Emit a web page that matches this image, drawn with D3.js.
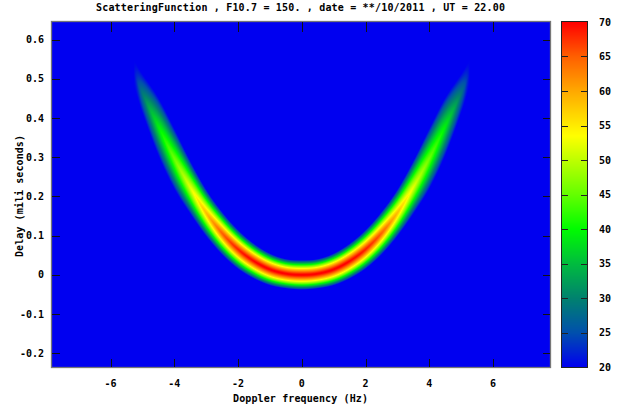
<!DOCTYPE html>
<html><head><meta charset="utf-8">
<script src="https://cdn.jsdelivr.net/npm/d3@7"></script>
<style>
html,body{margin:0;padding:0;background:#fff;}
svg{display:block;}
text{font-family:"DejaVu Sans Mono",monospace;font-weight:bold;font-size:10px;fill:#000;}
</style></head><body>
<svg id="chart" width="625" height="412"></svg>
<script>
// ---- labels and ticks ----
const titleText = "ScatteringFunction , F10.7 = 150. , date = **/10/2011 , UT = 22.00";
const xLabel = "Doppler frequency (Hz)";
const yLabel = "Delay (mili seconds)";
const dopplerTicks = [-6, -4, -2, 0, 2, 4, 6];
const delayTicks = [-0.2, -0.1, 0, 0.1, 0.2, 0.3, 0.4, 0.5, 0.6];
const levelTicks = [20, 25, 30, 35, 40, 45, 50, 55, 60, 65, 70];
const dopplerRange = [-7.84, 7.79];
const delayRange = [-0.235, 0.645];
const levelRange = [20, 70];

// ---- scattering function ridge, sampled every 0.5 Hz ----
const ridgeDoppler   = [-5.5, -5.0, -4.5, -4.0, -3.5, -3.0, -2.5, -2.0, -1.5, -1.0, -0.5, 0.0,
                         0.5, 1.0, 1.5, 2.0, 2.5, 3.0, 3.5, 4.0, 4.5, 5.0, 5.5];
// delay of the ridge (ms)
const ridgeDelay     = [0.550, 0.462, 0.378, 0.296, 0.223, 0.158, 0.106, 0.065, 0.035, 0.014, 0.003, 0.000,
                        0.003, 0.014, 0.035, 0.065, 0.106, 0.158, 0.223, 0.296, 0.378, 0.462, 0.550];
// peak level on the ridge (dB)
const ridgePeak      = [14, 29, 39, 45.5, 52, 58.5, 65, 68.5, 70, 70.5, 70.5, 70.5,
                        70.5, 70.5, 70, 68.5, 65, 58.5, 52, 45.5, 39, 29, 14];
// half width of the band down to the 20 dB floor (ms, along delay)
const ridgeHalfWidth = [0.022, 0.050, 0.074, 0.077, 0.068, 0.060, 0.055, 0.050, 0.045, 0.041, 0.038, 0.038,
                        0.038, 0.041, 0.045, 0.050, 0.055, 0.060, 0.068, 0.077, 0.074, 0.050, 0.022];
// shape exponent of the cross-band fall-off
const profileExponent = 1.3;

// colour table of the level scale
const paletteLevels = [20, 25, 30, 35, 40, 45, 50, 53.5, 60, 65, 70];
const paletteColors = ["rgb(0,0,240)", "rgb(0,80,172)", "rgb(0,130,110)", "rgb(0,188,62)", "rgb(0,252,0)",
                       "rgb(100,255,0)", "rgb(190,255,0)", "rgb(255,255,0)", "rgb(255,168,0)",
                       "rgb(255,95,0)", "rgb(255,0,0)"];

const svg = d3.select("#chart");
const plot = {left: 52, top: 22, right: 550, bottom: 367};
const bar = {left: 562, right: 587};

const x = d3.scaleLinear().domain(dopplerRange).range([plot.left, plot.right]);
const y = d3.scaleLinear().domain(delayRange).range([plot.bottom, plot.top]);
const yc = d3.scaleLinear().domain(levelRange).range([plot.bottom, plot.top]);
const color = d3.scaleLinear().domain(paletteLevels).range(paletteColors)
  .interpolate(d3.interpolateRgb).clamp(true);

// Catmull-Rom through the uniformly spaced ridge samples
const f0 = ridgeDoppler[0], step = ridgeDoppler[1] - ridgeDoppler[0], n = ridgeDoppler.length;
function sample(arr, f) {
  let t = (f - f0) / step;
  t = Math.max(0, Math.min(n - 1 - 1e-9, t));
  const i = Math.floor(t), u = t - i;
  const p0 = arr[Math.max(i - 1, 0)], p1 = arr[i], p2 = arr[Math.min(i + 1, n - 1)], p3 = arr[Math.min(i + 2, n - 1)];
  return 0.5 * (2 * p1 + (-p0 + p2) * u + (2 * p0 - 5 * p1 + 4 * p2 - p3) * u * u +
                (-p0 + 3 * p1 - 3 * p2 + p3) * u * u * u);
}

// ---- image of the scattering function ----
const W = plot.right - plot.left, H = plot.bottom - plot.top;
const canvas = document.createElement("canvas");
canvas.width = W; canvas.height = H;
const ctx = canvas.getContext("2d");
const img = ctx.createImageData(W, H);
const lut = d3.range(0, 501).map(k => d3.rgb(color(levelRange[0] + k * 0.1)));
for (let px = 0; px < W; px++) {
  const f = x.invert(plot.left + px + 0.5);
  const P = sample(ridgePeak, f), w = Math.max(1e-4, sample(ridgeHalfWidth, f)), r = sample(ridgeDelay, f);
  for (let py = 0; py < H; py++) {
    const tau = y.invert(plot.top + py + 0.5);
    const d = Math.abs(tau - r) / w;
    const v = d >= 1 ? levelRange[0]
      : levelRange[0] + (P - levelRange[0]) * (1 - Math.pow(d, profileExponent));
    const k = Math.max(0, Math.min(500, Math.round((v - levelRange[0]) * 10)));
    const c = lut[k], o = (py * W + px) * 4;
    img.data[o] = c.r; img.data[o + 1] = c.g; img.data[o + 2] = c.b; img.data[o + 3] = 255;
  }
}
ctx.putImageData(img, 0, 0);
svg.append("image")
  .attr("x", plot.left).attr("y", plot.top).attr("width", W).attr("height", H)
  .attr("preserveAspectRatio", "none")
  .attr("href", canvas.toDataURL());

// ---- frame and ticks ----
svg.append("rect").attr("x", plot.left - 0.5).attr("y", plot.top - 0.5)
  .attr("width", W + 1).attr("height", H + 1)
  .attr("fill", "none").attr("stroke", "#777").attr("stroke-width", 1.3);

const tickG = svg.append("g").attr("stroke", "#111").attr("stroke-width", 1);
dopplerTicks.forEach(t => {
  const xp = Math.round(x(t)) + 0.5;
  tickG.append("line").attr("x1", xp).attr("x2", xp).attr("y1", plot.top).attr("y2", plot.top + 10);
  tickG.append("line").attr("x1", xp).attr("x2", xp).attr("y1", plot.bottom).attr("y2", plot.bottom - 8);
});
delayTicks.forEach(t => {
  const yp = Math.round(y(t)) + 0.5;
  tickG.append("line").attr("x1", plot.left).attr("x2", plot.left + 8).attr("y1", yp).attr("y2", yp);
  tickG.append("line").attr("x1", plot.right).attr("x2", plot.right - 7).attr("y1", yp).attr("y2", yp);
});

svg.append("g").selectAll("text").data(dopplerTicks).join("text")
  .attr("x", d => x(d)).attr("y", 387).attr("text-anchor", "middle")
  .text(d => d3.format("d")(d).replace("−", "-"));
svg.append("g").selectAll("text").data(delayTicks).join("text")
  .attr("x", 44).attr("y", d => y(d)).attr("dy", "0.35em").attr("text-anchor", "end")
  .text(d => (d === 0 ? "0" : d3.format(".1f")(d)).replace("−", "-"));

svg.append("text").attr("x", 96).attr("y", 11).attr("textLength", 409)
  .attr("lengthAdjust", "spacing").text(titleText);
svg.append("text").attr("x", 233).attr("y", 402).attr("textLength", 135)
  .attr("lengthAdjust", "spacing").text(xLabel);
svg.append("text").attr("transform", "translate(23,257) rotate(-90)")
  .attr("textLength", 122).attr("lengthAdjust", "spacing").text(yLabel);

// ---- colour bar ----
const barG = svg.append("g");
barG.selectAll("rect").data(d3.range(plot.top, plot.bottom)).join("rect")
  .attr("x", bar.left).attr("y", d => d).attr("width", bar.right - bar.left).attr("height", 1)
  .attr("fill", d => color(yc.invert(d + 0.5)));
barG.append("rect").attr("x", bar.left - 0.5).attr("y", plot.top - 0.5)
  .attr("width", bar.right - bar.left + 1).attr("height", H + 1)
  .attr("fill", "none").attr("stroke", "#222");
levelTicks.slice(1, -1).forEach(t => {
  const yp = Math.round(yc(t)) + 0.5;
  barG.append("line").attr("x1", bar.left).attr("x2", bar.left + 6).attr("y1", yp).attr("y2", yp).attr("stroke", "#222");
  barG.append("line").attr("x1", bar.right - 6).attr("x2", bar.right).attr("y1", yp).attr("y2", yp).attr("stroke", "#222");
});
svg.append("g").selectAll("text").data(levelTicks).join("text")
  .attr("x", 599).attr("y", d => yc(d)).attr("dy", "0.35em").text(d => d);
</script>
</body></html>
